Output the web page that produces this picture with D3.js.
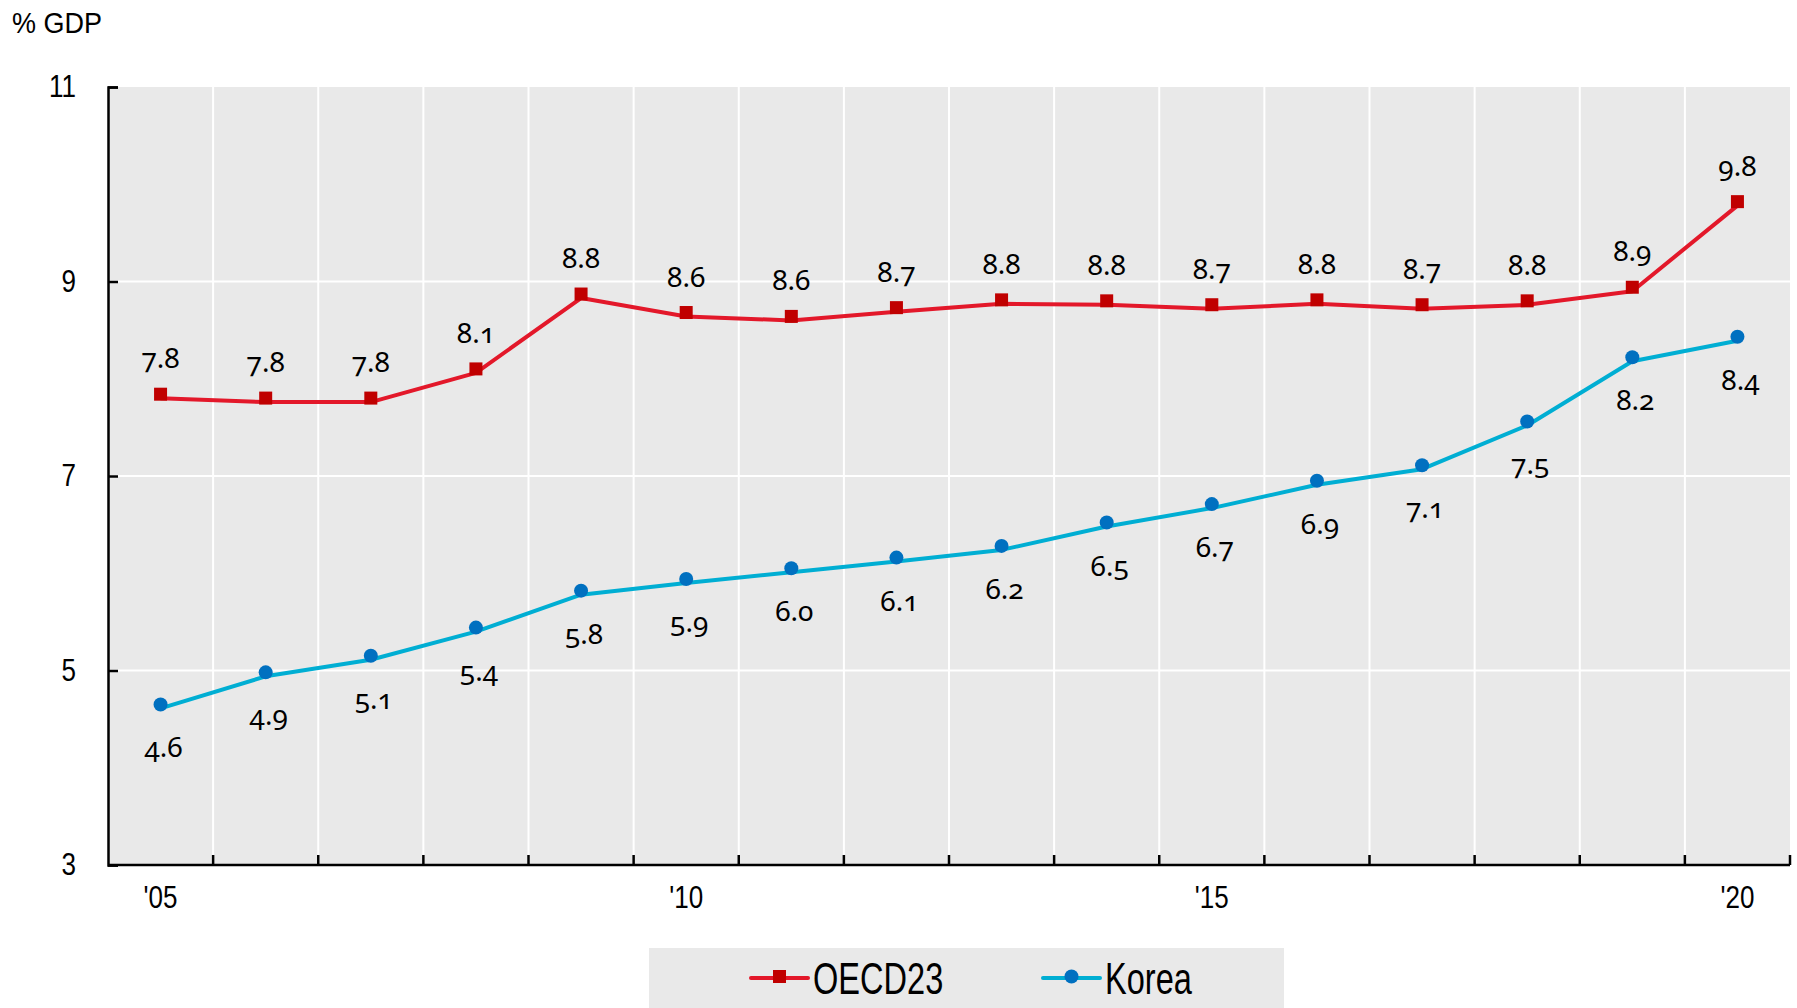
<!DOCTYPE html>
<html>
<head>
<meta charset="utf-8">
<script src="https://cdn.jsdelivr.net/npm/d3@7"></script>
<style>
  html, body { margin: 0; padding: 0; background: #fff; }
  svg { display: block; }
  .axis-font { font-family: "Liberation Sans", Arial, sans-serif; }
  .val { font-family: "Noto Sans", "Open Sans", sans-serif; font-variant-numeric: oldstyle-nums; font-feature-settings: "onum" 1; }
</style>
</head>
<body>
<svg id="chart" width="1797" height="1008"></svg>
<script>
const years = [2005, 2006, 2007, 2008, 2009, 2010, 2011, 2012, 2013, 2014, 2015, 2016, 2017, 2018, 2019, 2020];
const oecd23 = [7.80, 7.76, 7.76, 8.06, 8.83, 8.64, 8.60, 8.69, 8.77, 8.76, 8.72, 8.77, 8.72, 8.76, 8.90, 9.78];
const korea  = [4.61, 4.94, 5.11, 5.40, 5.78, 5.90, 6.01, 6.12, 6.24, 6.48, 6.67, 6.91, 7.07, 7.52, 8.18, 8.39];
const yTicks = [3, 5, 7, 9, 11];
const xTickLabels = {2005: "'05", 2010: "'10", 2015: "'15", 2020: "'20"};
const seriesNames = ["OECD23", "Korea"];

const svg = d3.select("#chart");
const pL = 108, pR = 1790, pT = 87, pB = 865;
const fmt = d3.format(".1f");
const markerOffset = -4;
const narrow = 0.84;

const x = d3.scaleBand().domain(years).range([pL, pR]).padding(0);
const y = d3.scaleLinear().domain([3, 11]).range([pB, pT]);

svg.append("rect").attr("x", pL).attr("y", pT).attr("width", pR - pL).attr("height", pB - pT).attr("fill", "#e9e9e9");

const bounds = years.slice(1).map(d => x(d));
svg.append("g").selectAll("line").data(bounds).join("line")
  .attr("x1", d => d).attr("x2", d => d).attr("y1", pT).attr("y2", pB)
  .attr("stroke", "#fff").attr("stroke-width", 2);
svg.append("g").selectAll("line").data(yTicks.filter(t => t > 3 && t < 11)).join("line")
  .attr("x1", pL).attr("x2", pR).attr("y1", d => y(d)).attr("y2", d => y(d))
  .attr("stroke", "#fff").attr("stroke-width", 2);

const yAxis = d3.axisLeft(y).tickValues(yTicks).tickSize(-10).tickPadding(32).tickFormat(d3.format("d"));
const gy = svg.append("g").attr("transform", `translate(${pL},0)`).call(yAxis);
gy.select(".domain").attr("stroke", "#000").attr("stroke-width", 2.5);
gy.selectAll(".tick line").attr("stroke", "#000").attr("stroke-width", 2.5);
gy.selectAll(".tick text").attr("class", "axis-font").attr("font-size", 31).attr("fill", "#000")
  .attr("x", -32 / narrow).attr("transform", `scale(${narrow},1)`);

const gx = svg.append("g").attr("transform", `translate(0,${pB})`);
gx.append("line").attr("x1", pL).attr("x2", pR).attr("y1", 0).attr("y2", 0).attr("stroke", "#000").attr("stroke-width", 2.5);
gx.selectAll("line.tk").data(bounds.concat([pR])).join("line").attr("class", "tk")
  .attr("x1", d => d).attr("x2", d => d).attr("y1", 0).attr("y2", -10)
  .attr("stroke", "#000").attr("stroke-width", 2.5);
gx.selectAll("text").data(years.filter(d => xTickLabels[d])).join("text")
  .attr("class", "axis-font")
  .attr("transform", d => `translate(${x(d) + x.bandwidth() / 2},43) scale(${narrow},1)`)
  .attr("text-anchor", "middle").attr("font-size", 31).attr("fill", "#000")
  .text(d => xTickLabels[d]);

svg.append("text").attr("class", "axis-font").attr("transform", "translate(12,33) scale(0.9,1)")
  .attr("font-size", 30).attr("fill", "#000").text("% GDP");

const cx = d => x(d) + x.bandwidth() / 2;
const line = d3.line().x(d => cx(d[0])).y(d => y(d[1]));

const series = [
  {name: seriesNames[0], values: oecd23, line: "#e3182a", marker: "#c00000", shape: "square", labelDy: -26, labelDx: 0},
  {name: seriesNames[1], values: korea, line: "#00aed3", marker: "#0070c0", shape: "circle", labelDy: 53, labelDx: 3}
];

series.forEach(s => {
  const pts = years.map((yr, i) => [yr, s.values[i]]);
  svg.append("path").datum(pts).attr("d", line).attr("fill", "none").attr("stroke", s.line).attr("stroke-width", 4).attr("stroke-linejoin", "round");
  const g = svg.append("g");
  if (s.shape === "square") {
    g.selectAll("rect").data(pts).join("rect")
      .attr("x", d => cx(d[0]) - 6.5).attr("y", d => y(d[1]) + markerOffset - 6.5)
      .attr("width", 13).attr("height", 13).attr("fill", s.marker);
  } else {
    g.selectAll("circle").data(pts).join("circle")
      .attr("cx", d => cx(d[0])).attr("cy", d => y(d[1]) + markerOffset).attr("r", 7).attr("fill", s.marker);
  }
  svg.append("g").selectAll("text").data(pts).join("text")
    .attr("class", "val")
    .attr("x", d => cx(d[0]) + s.labelDx).attr("y", d => y(d[1]) + markerOffset + s.labelDy)
    .attr("text-anchor", "middle").attr("font-size", 28).attr("fill", "#000")
    .text(d => fmt(d[1]));
});

const lg = svg.append("g");
lg.append("rect").attr("x", 649).attr("y", 948).attr("width", 635).attr("height", 60).attr("fill", "#e9e9e9");
const legendItems = [
  {name: seriesNames[0], x0: 751, line: "#e3182a", marker: "#c00000", shape: "square"},
  {name: seriesNames[1], x0: 1043, line: "#00aed3", marker: "#0070c0", shape: "circle"}
];
legendItems.forEach(it => {
  const ly = 978;
  lg.append("line").attr("x1", it.x0).attr("x2", it.x0 + 57).attr("y1", ly).attr("y2", ly).attr("stroke", it.line).attr("stroke-width", 4).attr("stroke-linecap", "round");
  if (it.shape === "square") {
    lg.append("rect").attr("x", it.x0 + 28.5 - 6.5).attr("y", ly - 8).attr("width", 13).attr("height", 13).attr("fill", it.marker);
  } else {
    lg.append("circle").attr("cx", it.x0 + 28.5).attr("cy", ly - 1.5).attr("r", 7).attr("fill", it.marker);
  }
  lg.append("text").attr("class", "axis-font")
    .attr("transform", `translate(${it.x0 + 62},${ly + 16}) scale(0.74,1)`)
    .attr("font-size", 44).attr("fill", "#000").text(it.name);
});
</script>
</body>
</html>
